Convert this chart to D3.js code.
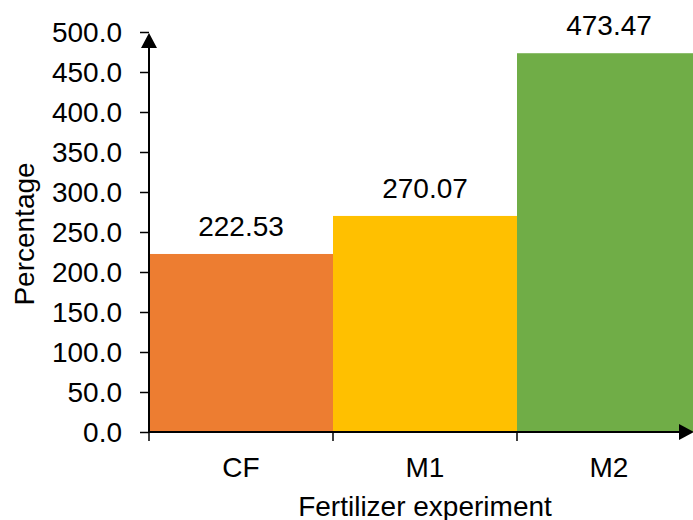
<!DOCTYPE html>
<html>
<head>
<meta charset="utf-8">
<script src="https://cdn.jsdelivr.net/npm/d3@7"></script>
<style>
  body { margin: 0; background: #fff; }
  text { font-family: "Liberation Sans", Arial, sans-serif; fill: #000; }
</style>
</head>
<body>
<div id="chart"></div>
<script>
// chart data
var categories = ["CF", "M1", "M2"];
var values = [222.53, 270.07, 473.47];
var barColors = ["#ED7D31", "#FFC000", "#70AD47"];
var yTicks = [0, 50, 100, 150, 200, 250, 300, 350, 400, 450, 500];

var svgWidth = 693;
var svgHeight = 520;
var fontSize = "28px";

var margin = { top: 32, right: -8, bottom: 88, left: 149 };
var width = svgWidth - margin.left - margin.right;
var height = svgHeight - margin.top - margin.bottom;

var svg = d3.select("#chart")
    .append("svg")
    .attr("width", svgWidth)
    .attr("height", svgHeight);

var chartGroup = svg.append("g")
    .attr("transform", `translate(${margin.left}, ${margin.top})`);

var xScale = d3.scaleBand()
    .domain(categories)
    .range([0, width])
    .padding(0);

var yScale = d3.scaleLinear()
    .domain([0, 500])
    .range([height, 0]);

// bars
chartGroup.selectAll("rect.bar")
    .data(values)
    .enter()
    .append("rect")
    .attr("class", "bar")
    .attr("x", (d, i) => xScale(categories[i]))
    .attr("y", d => yScale(d))
    .attr("width", xScale.bandwidth())
    .attr("height", d => height - yScale(d))
    .attr("fill", (d, i) => barColors[i]);

// value labels
chartGroup.selectAll("text.value")
    .data(values)
    .enter()
    .append("text")
    .attr("class", "value")
    .attr("x", (d, i) => xScale(categories[i]) + xScale.bandwidth() / 2)
    .attr("y", d => yScale(d) - 18)
    .attr("text-anchor", "middle")
    .style("font-size", fontSize)
    .text(d => d.toFixed(2));

// y axis
var leftAxis = d3.axisLeft(yScale)
    .tickValues(yTicks)
    .tickFormat(d3.format(".1f"))
    .tickSize(9)
    .tickPadding(18);

var yAxis = chartGroup.append("g").call(leftAxis);
yAxis.select(".domain").remove();
yAxis.selectAll("line").attr("stroke", "#000").attr("stroke-width", 1.5);
yAxis.selectAll("text")
    .style("font-size", fontSize)
    .attr("font-family", null)
    .attr("dy", "0.35em");

chartGroup.append("line")
    .attr("x1", 0).attr("x2", 0)
    .attr("y1", height).attr("y2", yScale(500) + 10)
    .attr("stroke", "#000").attr("stroke-width", 2);

chartGroup.append("path")
    .attr("d", `M0,${yScale(500) + 1} L-8,${yScale(500) + 16} L8,${yScale(500) + 16} Z`)
    .attr("fill", "#000");

// x axis
var bottomAxis = d3.axisBottom(xScale).tickSize(0).tickPadding(25);
var xAxis = chartGroup.append("g")
    .attr("transform", `translate(0, ${height})`)
    .call(bottomAxis);
xAxis.select(".domain").remove();
xAxis.selectAll("text")
    .style("font-size", fontSize)
    .attr("font-family", null);

chartGroup.append("line")
    .attr("x1", 0).attr("x2", svgWidth - margin.left - 10)
    .attr("y1", height).attr("y2", height)
    .attr("stroke", "#000").attr("stroke-width", 2);

chartGroup.append("path")
    .attr("d", `M${svgWidth - margin.left + 1},${height} L${svgWidth - margin.left - 14},${height - 8} L${svgWidth - margin.left - 14},${height + 8} Z`)
    .attr("fill", "#000");

// x tick marks at band edges
chartGroup.selectAll("line.xtick")
    .data(categories)
    .enter()
    .append("line")
    .attr("class", "xtick")
    .attr("x1", d => xScale(d)).attr("x2", d => xScale(d))
    .attr("y1", height).attr("y2", height + 9)
    .attr("stroke", "#000").attr("stroke-width", 1.5);

// axis titles
svg.append("text")
    .attr("x", 425)
    .attr("y", 516)
    .attr("text-anchor", "middle")
    .style("font-size", fontSize)
    .text("Fertilizer experiment");

svg.append("text")
    .attr("transform", `translate(34, 234) rotate(-90)`)
    .attr("text-anchor", "middle")
    .style("font-size", fontSize)
    .text("Percentage");
</script>
</body>
</html>
